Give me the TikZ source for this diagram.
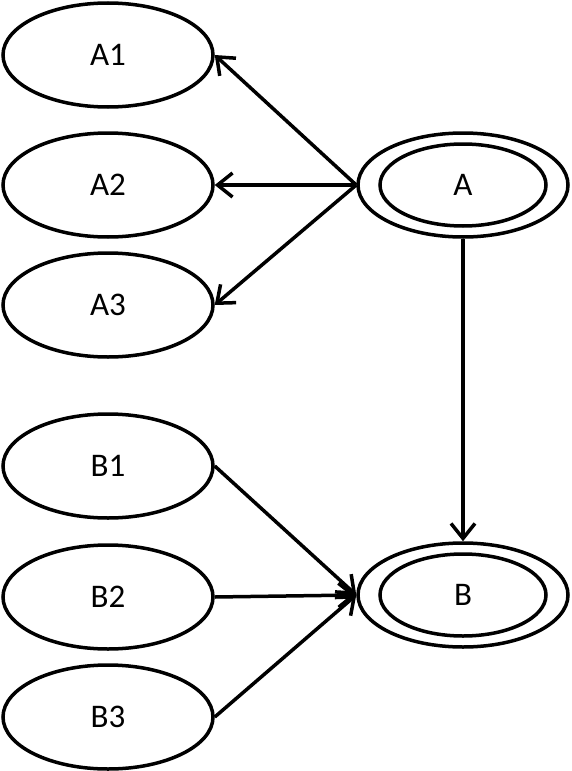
\documentclass[tikz,border=0pt]{standalone}
\usepackage{fontspec}
\setmainfont{Carlito}
\usetikzlibrary{shapes.geometric,arrows.meta}
\begin{document}
\begin{tikzpicture}[x=1pt,y=-1pt,
  st/.style={ellipse,draw,line width=3.5pt,minimum width=210pt,minimum height=104pt,inner sep=0pt,font=\fontsize{33}{40}\selectfont},
  arr/.style={line width=3.5pt,-{Straight Barb[length=15pt,width=24pt]}}]
\useasboundingbox (0,0) rectangle (571,771);
\node[st] (A1) at (108,55) {A1};
\node[st] (A2) at (108,185) {A2};
\node[st] (A3) at (108,305) {A3};
\node[st] (B1) at (108,466) {B1};
\node[st] (B2) at (108,597) {B2};
\node[st] (B3) at (108,717) {B3};
\node[st] (A) at (463,185) {A};
\node[st] (B) at (463,595) {B};
\draw[line width=3.5pt] (A.center) ellipse [x radius=83pt,y radius=41pt];
\draw[line width=3.5pt] (B.center) ellipse [x radius=83pt,y radius=41pt];
\draw[arr] (A.west) -- (A1.east);
\draw[arr] (A.west) -- (A2.east);
\draw[arr] (A.west) -- (A3.east);
\draw[arr] (A.south) -- (B.north);
\draw[arr] (B1.east) -- (B.west);
\draw[arr] (B2.east) -- (B.west);
\draw[arr] (B3.east) -- (B.west);
\end{tikzpicture}
\end{document}
